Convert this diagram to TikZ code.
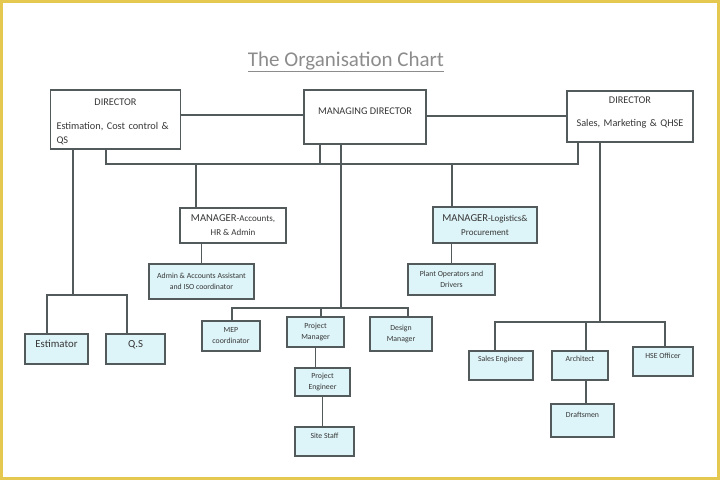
\documentclass[tikz,border=0pt]{standalone}
\usepackage{fontspec}
\setmainfont{Carlito}
\definecolor{linegray}{RGB}{82,90,92}
\definecolor{boxcyan}{RGB}{221,244,248}
\definecolor{textgray}{RGB}{55,55,55}
\definecolor{titlegray}{RGB}{140,140,140}
\definecolor{framegold}{RGB}{228,200,80}

\begin{document}
\begin{tikzpicture}[
    x=1pt, y=-1pt,
    box/.style={rectangle, draw=linegray, line width=1.6pt, fill=white, inner sep=2pt, align=center, text=textgray},
    cbox/.style={box, fill=boxcyan},
    wh/.style 2 args={minimum width=#1, minimum height=#2},
    link/.style={draw=linegray, line width=1.8pt},
    small/.style={font=\fontsize{7.8}{11}\selectfont},
    mid/.style={font=\fontsize{10.3}{14}\selectfont},
    mgr/.style={font=\fontsize{9}{14}\selectfont},
    lift/.style={text depth=#1}
  ]
    \useasboundingbox (0,0) rectangle (720,480);
    \draw[framegold, line width=3pt] (1.5,1.5) rectangle (718.5,478.5);

    % Title
    \node[font=\fontsize{21}{24}\selectfont, text=titlegray] (title) at (346,62) {\underline{The Organisation Chart}};

    % Directors
    \node[box, mid, wh={130}{59}, text width=118, align=left] (dirL) at (115.5,119.5)
      {{\centering DIRECTOR\par}\vspace{10pt}Estimation, Cost control \&\\QS\par\vspace{-4pt}};
    \node[box, mid, wh={122}{54}, lift=12pt] (md) at (365,117) {MANAGING DIRECTOR};
    \node[box, mid, wh={126}{51}, text width=118] (dirR) at (630,116.5)
      {DIRECTOR\\[9pt]Sales, Marketing \& QHSE\par\vspace{8pt}};

    % Managers
    \node[box, mgr, wh={106}{35}] (mgrA) at (233,225.5)
      {{\fontsize{10.6}{14}\selectfont MANAGER}-Accounts,\\HR \& Admin};
    \node[cbox, mgr, wh={104}{36}] (mgrL) at (485,225)
      {{\fontsize{10.6}{14}\selectfont MANAGER}-Logistics\&\\Procurement};
    \node[cbox, small, wh={105}{35}] (admin) at (201.5,281.5) {Admin \& Accounts Assistant\\and ISO coordinator};
    \node[cbox, small, wh={87}{31}] (plant) at (451.5,279.5) {Plant Operators and\\Drivers};

    % Estimation staff
    \node[cbox, font=\fontsize{10.8}{12}\selectfont, wh={63}{30}, lift=10pt] (est) at (56.5,349) {Estimator};
    \node[cbox, font=\fontsize{10.8}{12}\selectfont, wh={59}{30}, lift=10pt] (qs) at (135.5,349) {Q.S};

    % Project staff
    \node[cbox, small, wh={58}{30}] (mep) at (231,336) {MEP\\coordinator};
    \node[cbox, small, wh={57}{30}] (pm) at (315.5,332) {Project\\Manager};
    \node[cbox, small, wh={62}{34}] (des) at (401,334) {Design\\Manager};
    \node[cbox, small, wh={55}{28}] (pe) at (322.5,382) {Project\\Engineer};
    \node[cbox, small, wh={59}{29}, lift=11pt] (site) at (324.5,441.5) {Site Staff};

    % Sales staff
    \node[cbox, small, wh={64}{29}, lift=13pt] (sales) at (501,365.5) {Sales Engineer};
    \node[cbox, small, wh={56}{29}, lift=13pt] (arch) at (580,365.5) {Architect};
    \node[cbox, small, wh={60}{29}, lift=11pt] (hse) at (663,361.5) {HSE Officer};
    \node[cbox, small, wh={63}{33}, lift=11pt] (draft) at (582.5,420.5) {Draftsmen};

    % Top row links
    \coordinate (hl) at (240,115);
    \coordinate (hr) at (500,116);
    \draw[link] (dirL.east |- hl) -- (md.west |- hl);
    \draw[link] (md.east |- hr) -- (dirR.west |- hr);

    % Main bus
    \coordinate (busL) at (106,164);
    \coordinate (busR) at (578,164);
    \coordinate (busM) at (320,164);
    \coordinate (busA) at (196,164);
    \coordinate (busG) at (452,164);
    \draw[link] (dirL.south -| busL) -- (busL) -- (busR) -- (dirR.south -| busR);
    \draw[link] (md.south -| busM) -- (busM);
    \draw[link] (busA) -- (mgrA.north -| busA);
    \draw[link] (busG) -- (mgrL.north -| busG);
    \draw[link] (mgrA.south -| admin.north) -- (admin.north);
    \draw[link] (mgrL.south -| plant.north) -- (plant.north);

    % Estimation branch
    \coordinate (estJ) at (73,295);
    \coordinate (estL) at (47,295);
    \coordinate (estR) at (127,295);
    \draw[link] (dirL.south -| estJ) -- (estJ);
    \draw[link] (est.north -| estL) |- (estR) -- (qs.north -| estR);

    % Project branch
    \coordinate (prjJ) at (341,308);
    \coordinate (prjL) at (232,308);
    \coordinate (prjM) at (321,308);
    \coordinate (prjR) at (408,308);
    \draw[link] (md.south -| prjJ) -- (prjJ);
    \draw[link] (mep.north -| prjL) |- (prjR) -- (des.north -| prjR);
    \draw[link] (prjM) -- (pm.north -| prjM);
    \draw[link] (pm.south) -- (pm.south |- pe.north);
    \draw[link] (pe.south) -- (pe.south |- site.north);

    % Sales branch
    \coordinate (salJ) at (600,322);
    \coordinate (salL) at (495,322);
    \coordinate (salM) at (586,322);
    \coordinate (salR) at (665,322);
    \draw[link] (dirR.south -| salJ) -- (salJ);
    \draw[link] (sales.north -| salL) |- (salR) -- (hse.north -| salR);
    \draw[link] (salM) -- (arch.north -| salM);
    \draw[link] (arch.south -| salM) -- (draft.north -| salM);
\end{tikzpicture}
\end{document}
